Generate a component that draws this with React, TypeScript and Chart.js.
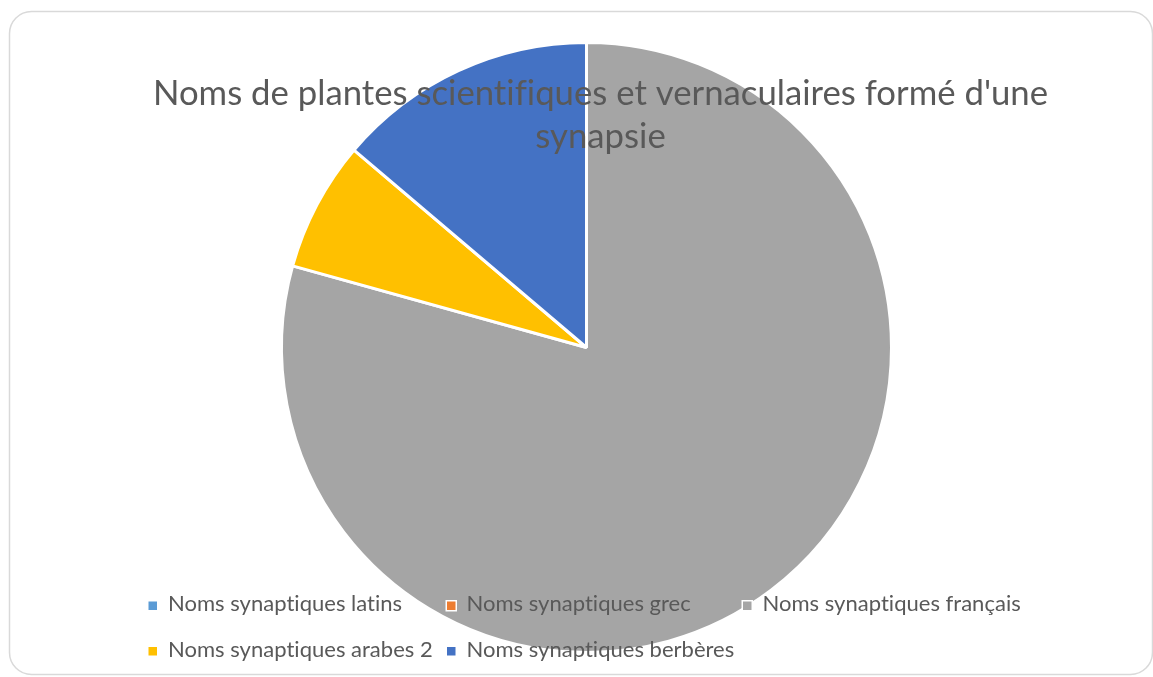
import React, { useEffect, useRef } from "react";
import { Chart, registerables } from "chart.js";

Chart.register(...registerables);

const categories = [
  "Noms synaptiques latins",
  "Noms synaptiques grec",
  "Noms synaptiques français",
  "Noms synaptiques arabes 2",
  "Noms synaptiques berbères",
];
const values = [0, 0, 23, 2, 4];
const colors = ["#5B9BD5", "#ED7D31", "#A5A5A5", "#FFC000", "#4472C4"];
const titleLines = ["Noms de plantes scientifiques et vernaculaires formé d'une", "synapsie"];

const FONT = "Lato, 'Open Sans', sans-serif";
const TEXT_COLOR = "#595959";

function fitSize(ctx: CanvasRenderingContext2D, text: string, target: number) {
  ctx.font = `100px ${FONT}`;
  const w = ctx.measureText(text).width;
  return (100 * target) / w;
}

const overlayPlugin = {
  id: "overlay",
  beforeDraw(chart: any) {
    const ctx: CanvasRenderingContext2D = chart.ctx;
    ctx.save();
    ctx.fillStyle = "#ffffff";
    ctx.fillRect(0, 0, chart.width, chart.height);
    ctx.beginPath();
    (ctx as any).roundRect(9.5, 11.5, 1143, 663, 22);
    ctx.strokeStyle = "#D9D9D9";
    ctx.lineWidth = 1.5;
    ctx.stroke();
    ctx.restore();
  },
  afterDraw(chart: any) {
    const ctx: CanvasRenderingContext2D = chart.ctx;
    ctx.save();
    (ctx as any).letterSpacing = "0.01px";
    // Title
    const ts = fitSize(ctx, titleLines[0], 895);
    ctx.font = `${ts}px ${FONT}`;
    ctx.fillStyle = TEXT_COLOR;
    ctx.textAlign = "center";
    ctx.textBaseline = "alphabetic";
    const baselines = [105, 148];
    titleLines.forEach((line, i) => ctx.fillText(line, 600.5, baselines[i]));

    // Legend
    const labels: string[] = chart.data.labels;
    const bg: string[] = chart.data.datasets[0].backgroundColor;
    const ls = fitSize(ctx, labels[0], 234);
    ctx.font = `${ls}px ${FONT}`;
    ctx.textAlign = "left";
    const cols = [148.5, 447, 743];
    const rows = [611, 656.5];
    labels.forEach((lab, i) => {
      const r = Math.floor(i / 3);
      const c = i % 3;
      const mx = cols[c];
      const my = rows[r] - 9.5;
      ctx.fillStyle = "#ffffff";
      ctx.fillRect(mx - 1.5, my - 1.5, 11.5, 11.5);
      ctx.fillStyle = bg[i];
      ctx.fillRect(mx, my, 8.5, 8.5);
      ctx.fillStyle = TEXT_COLOR;
      ctx.fillText(lab, mx + 19.5, rows[r]);
    });
    ctx.restore();
  },
};

export default function App() {
  const ref = useRef<HTMLCanvasElement | null>(null);
  useEffect(() => {
    document.body.style.margin = "0";
    if (!ref.current) return;
    const chart = new Chart(ref.current, {
      type: "pie",
      data: {
        labels: categories,
        datasets: [
          {
            data: values,
            backgroundColor: colors,
            borderColor: "#ffffff",
            borderWidth: 3,
          },
        ],
      },
      options: {
        responsive: false,
        animation: false,
        devicePixelRatio: 1,
        layout: { padding: { left: 280, right: 260, top: 41, bottom: 23 } },
        plugins: {
          legend: { display: false },
          title: { display: false },
          tooltip: { enabled: false },
        },
      },
      plugins: [overlayPlugin],
    });
    return () => chart.destroy();
  }, []);
  return (
    <div style={{ position: "fixed", left: 0, top: 0, width: 1153, height: 677 }}>
      <canvas ref={ref} width={1153} height={677} style={{ display: "block" }} />
    </div>
  );
}
